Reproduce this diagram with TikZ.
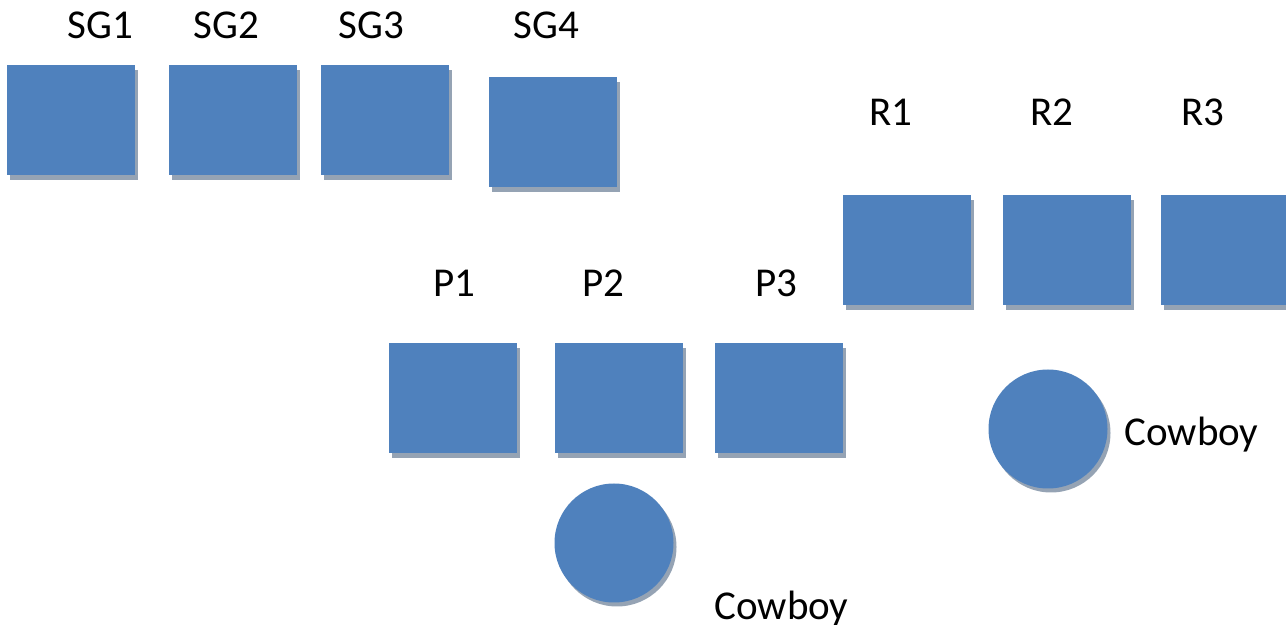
\documentclass[tikz,border=0pt]{standalone}
\usepackage{fontspec}
\setmainfont{Carlito}
\usetikzlibrary{shadows}
\definecolor{boxblue}{HTML}{4F81BD}
\definecolor{shadowgray}{HTML}{95A3B4}
\begin{document}
\begin{tikzpicture}[x=0.5pt,y=-0.5pt,
  sq/.style={rectangle,fill=boxblue,draw=none,minimum width=64pt,minimum height=55pt,inner sep=0pt,
    general shadow={fill=shadowgray,shadow xshift=1.5pt,shadow yshift=-2.5pt}},
  ball/.style={circle,fill=boxblue,draw=none,minimum size=59.5pt,inner sep=0pt,
    general shadow={fill=shadowgray,shadow xshift=1.5pt,shadow yshift=-2pt}},
  lbl/.style={anchor=base west,inner sep=0pt,font=\fontsize{20.5}{24}\selectfont}]
\useasboundingbox (0,0) rectangle (1286,625);
\clip (0,0) rectangle (1286,625);
% squares
\node[sq] (sg1) at (71,120) {};
\node[sq] (sg2) at (233,120) {};
\node[sq] (sg3) at (385,120) {};
\node[sq] (sg4) at (553,132) {};
\node[sq] (r1) at (907,250) {};
\node[sq] (r2) at (1067,250) {};
\node[sq] (r3) at (1225,250) {};
\node[sq] (p1) at (453,398) {};
\node[sq] (p2) at (619,398) {};
\node[sq] (p3) at (779,398) {};
% circles
\node[ball] (c1) at (614,543) {};
\node[ball] (c2) at (1048,429) {};
% labels
\node[lbl] (lsg1) at (67,39) {SG1};
\node[lbl] (lsg2) at (193,39) {SG2};
\node[lbl] (lsg3) at (338,39) {SG3};
\node[lbl] (lsg4) at (513,39) {SG4};
\node[lbl] (lr1) at (869,126) {R1};
\node[lbl] (lr2) at (1030,126) {R2};
\node[lbl] (lr3) at (1181,126) {R3};
\node[lbl] (lp1) at (433,297) {P1};
\node[lbl] (lp2) at (582,297) {P2};
\node[lbl] (lp3) at (755,297) {P3};
\node[lbl] (lc2) at (1124,446) {Cowboy};
\node[lbl] (lc1) at (714,619) {Cowboy};
\end{tikzpicture}
\end{document}
